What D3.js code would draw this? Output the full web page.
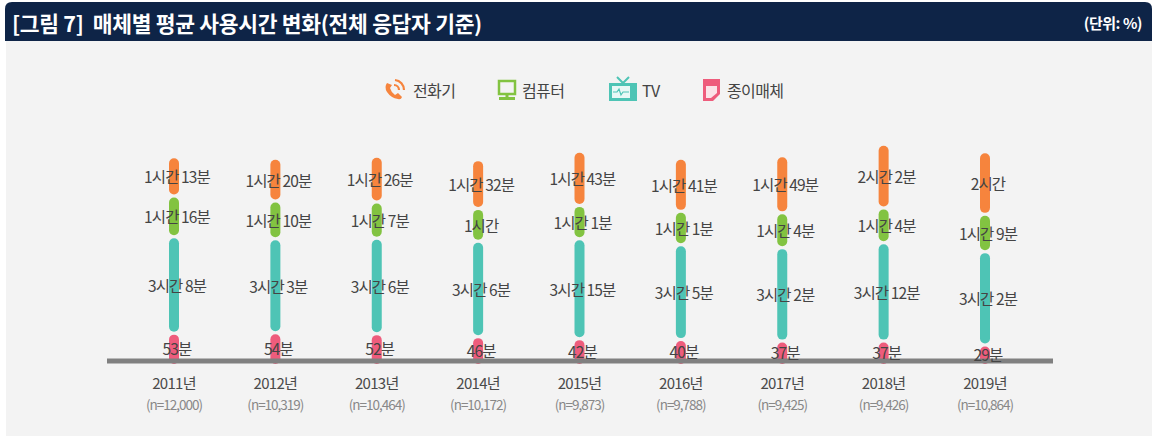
<!DOCTYPE html>
<html>
<head>
<meta charset="utf-8">
<script src="https://cdn.jsdelivr.net/npm/d3@7"></script>
<style>
  body { margin: 0; background: #fff; }
  text { font-family: "Noto Sans CJK KR", "Noto Sans", sans-serif; }
</style>
</head>
<body>
<div class="chart"></div>
<script>
// data (minutes per day)
const years = ['2011년', '2012년', '2013년', '2014년', '2015년', '2016년', '2017년', '2018년', '2019년'];
const sampleLabels = ['(n=12,000)', '(n=10,319)', '(n=10,464)', '(n=10,172)', '(n=9,873)', '(n=9,788)', '(n=9,425)', '(n=9,426)', '(n=10,864)'];
const paper = [53, 54, 52, 46, 42, 40, 37, 37, 29];
const tv = [188, 183, 186, 186, 195, 185, 182, 192, 182];
const computer = [76, 70, 67, 60, 61, 61, 64, 64, 69];
const phone = [73, 80, 86, 92, 103, 101, 109, 122, 120];

const seriesNames = ['종이매체', 'TV', '컴퓨터', '전화기'];
const seriesColors = ['#ee5c7c', '#4ec4b5', '#82c341', '#f6843d'];
const seriesValues = [paper, tv, computer, phone];

const W = 1161, H = 441;
const baseY = 361;
const gap = 3;

const svg = d3.select(".chart")
    .append("svg")
    .attr("width", W)
    .attr("height", H);

// panel background
svg.append("rect")
    .attr("x", 6).attr("y", 30)
    .attr("width", 1146).attr("height", 406)
    .attr("fill", "#f3f3f3");

// header
svg.append("path")
    .attr("d", "M5,41 L5,9 Q5,2 12,2 L1145,2 Q1152,2 1152,9 L1152,41 Z")
    .attr("fill", "#0e2447");

svg.append("text")
    .attr("x", 12).attr("y", 22)
    .attr("dominant-baseline", "central")
    .attr("fill", "#fff")
    .attr("font-size", 21.5)
    .attr("font-weight", "bold")
    .attr("letter-spacing", -0.3)
    .attr("xml:space", "preserve")
    .text("[그림 7]  매체별 평균 사용시간 변화(전체 응답자 기준)");

svg.append("text")
    .attr("x", 1142).attr("y", 22)
    .attr("dominant-baseline", "central")
    .attr("text-anchor", "end")
    .attr("fill", "#fff")
    .attr("font-size", 15)
    .attr("font-weight", "bold")
    .attr("letter-spacing", -0.5)
    .text("(단위: %)");

// scales
const xScale = d3.scalePoint()
    .domain(years)
    .range([174, 985]);

const yScale = d3.scaleLinear()
    .domain([0, 500])
    .range([baseY, baseY - 0.497 * 500]);

// stack the values
const rows = years.map((y, i) => {
    const r = { year: y };
    seriesNames.forEach((s, k) => r[s] = seriesValues[k][i]);
    return r;
});
const stacked = d3.stack().keys(seriesNames)(rows);

function fmt(m) {
    const h = Math.floor(m / 60), mm = m % 60;
    if (h === 0) return mm + "분";
    if (mm === 0) return h + "시간";
    return h + "시간 " + mm + "분";
}

const barW = 10;

stacked.forEach((layer, k) => {
    const g = svg.append("g").attr("class", "series");
    g.selectAll("rect")
        .data(layer)
        .join("rect")
        .attr("x", d => xScale(d.data.year) - barW / 2)
        .attr("y", d => yScale(d[1]) - k * gap)
        .attr("width", barW)
        .attr("height", d => yScale(d[0]) - yScale(d[1]) + (k === 0 ? 3 : 0))
        .attr("rx", barW / 2)
        .attr("fill", seriesColors[k]);
});

// baseline
svg.append("rect")
    .attr("x", 107).attr("y", 358.5)
    .attr("width", 946).attr("height", 5)
    .attr("fill", "#808080");

// value labels
stacked.forEach((layer, k) => {
    svg.append("g").selectAll("text")
        .data(layer)
        .join("text")
        .attr("x", d => xScale(d.data.year) + 3)
        .attr("y", d => (yScale(d[0]) + yScale(d[1])) / 2 - k * gap)
        .attr("text-anchor", "middle")
        .attr("dominant-baseline", "central")
        .attr("font-size", 15.5)
        .attr("letter-spacing", -0.9)
        .attr("fill", "#444")
        .text(d => fmt(d[1] - d[0]));
});

// x labels
svg.append("g").selectAll("text")
    .data(years)
    .join("text")
    .attr("x", d => xScale(d))
    .attr("y", 382)
    .attr("text-anchor", "middle")
    .attr("dominant-baseline", "central")
    .attr("font-size", 15)
    .attr("letter-spacing", -0.7)
    .attr("fill", "#4a4a4a")
    .text(d => d);

svg.append("g").selectAll("text")
    .data(years)
    .join("text")
    .attr("x", d => xScale(d))
    .attr("y", 404)
    .attr("text-anchor", "middle")
    .attr("dominant-baseline", "central")
    .attr("font-size", 13.5)
    .attr("letter-spacing", -1)
    .attr("fill", "#888")
    .text((d, i) => sampleLabels[i]);

// legend
const legend = svg.append("g").attr("class", "legend");
const legendItems = [
    { name: '전화기', color: seriesColors[3], x: 385, tx: 413 },
    { name: '컴퓨터', color: seriesColors[2], x: 498, tx: 522 },
    { name: 'TV', color: seriesColors[1], x: 609, tx: 642 },
    { name: '종이매체', color: seriesColors[0], x: 702, tx: 727 }
];
const ly = 90;

legendItems.forEach((it, i) => {
    const g = legend.append("g").attr("transform", "translate(" + it.x + "," + ly + ")");
    if (i === 0) {
        // handset
        g.append("path")
            .attr("d", "M2,-7 Q-1,-3 2,2 Q6,8 13,9 Q16,10 17,7 L13,3 L10,5 Q6,2 5,-2 L7,-5 Z")
            .attr("fill", it.color);
        g.append("path")
            .attr("d", "M9,-5 A5,5 0 0 1 14,0")
            .attr("fill", "none").attr("stroke", it.color).attr("stroke-width", 2.2);
        g.append("path")
            .attr("d", "M10,-10 A10,10 0 0 1 19,0")
            .attr("fill", "none").attr("stroke", it.color).attr("stroke-width", 2.2);
    } else if (i === 1) {
        // monitor
        g.append("rect").attr("x", 1).attr("y", -9).attr("width", 16).attr("height", 13)
            .attr("fill", "none").attr("stroke", it.color).attr("stroke-width", 2.5);
        g.append("rect").attr("x", 7.5).attr("y", 4).attr("width", 3).attr("height", 3).attr("fill", it.color);
        g.append("rect").attr("x", 1).attr("y", 7).attr("width", 16).attr("height", 3).attr("fill", it.color);
    } else if (i === 2) {
        // tv
        g.append("path").attr("d", "M8,-13 L14,-7 L20,-13")
            .attr("fill", "none").attr("stroke", it.color).attr("stroke-width", 2);
        g.append("rect").attr("x", 0).attr("y", -7).attr("width", 28).attr("height", 18)
            .attr("fill", it.color);
        g.append("rect").attr("x", 3).attr("y", -4).attr("width", 18).attr("height", 12)
            .attr("fill", "#e9f8f6");
        g.append("path").attr("d", "M4,2 L8,2 L10,-1 L12,5 L14,2 L20,2")
            .attr("fill", "none").attr("stroke", it.color).attr("stroke-width", 1.2);
    } else {
        // paper
        g.append("path").attr("d", "M1,-11 L18,-11 L18,4 L11,11 L1,11 Z")
            .attr("fill", it.color);
        g.append("path").attr("d", "M4,-8 L15,-8 L15,3 L9,8 L4,8 Z")
            .attr("fill", "#fbe3e8");
        g.append("rect").attr("x", 4).attr("y", -8).attr("width", 11).attr("height", 4).attr("fill", it.color);
    }
    legend.append("text")
        .attr("x", it.tx).attr("y", ly)
        .attr("dominant-baseline", "central")
        .attr("font-size", 16)
        .attr("letter-spacing", -0.6)
        .attr("fill", "#444")
        .text(it.name);
});
</script>
</body>
</html>
